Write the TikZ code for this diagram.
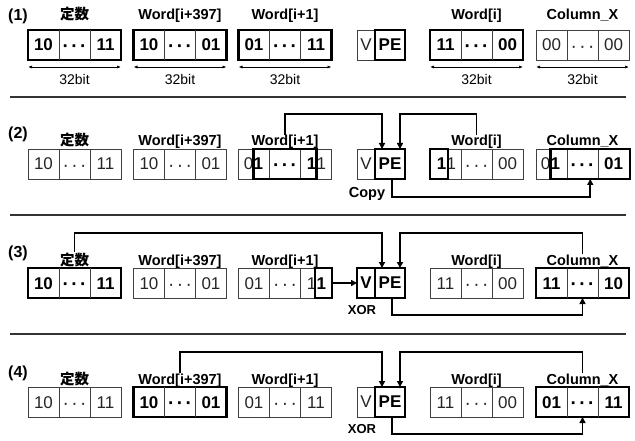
\documentclass[tikz,border=0pt]{standalone}
\usepackage{fontspec}
\setmainfont{Liberation Sans}
\newfontfamily\cjk{Noto Sans CJK JP}
\usetikzlibrary{arrows.meta}
\newcommand\dd{{\fontsize{19}{19}\selectfont·\kern2.4pt·\kern2.4pt·}}
\tikzset{
 thinbox/.style={draw=black!75, line width=0.9pt, minimum height=30pt, inner sep=0pt, outer sep=0pt},
 boldbox/.style={draw=black, line width=2.3pt, minimum height=30pt, inner sep=0pt, outer sep=0pt},
 divline/.style={draw=black!75, line width=0.9pt},
 thintxt/.style={inner sep=0pt, anchor=base, text=black!85, font=\fontsize{17}{17}\selectfont},
 boldtxt/.style={inner sep=0pt, anchor=base, text=black, font=\fontsize{17}{17}\selectfont\bfseries},
 thinfont/.style={font=\fontsize{17}{17}\selectfont, text=black!85},
 boldfont/.style={font=\fontsize{17}{17}\selectfont\bfseries, text=black},
 lbl/.style={inner sep=0pt, anchor=base, font=\fontsize{14.5}{15}\selectfont\bfseries},
 num/.style={inner sep=0pt, anchor=base, font=\fontsize{16}{16}\selectfont\bfseries},
 bits/.style={inner sep=0pt, anchor=base, font=\fontsize{14}{14}\selectfont},
 dimarrow/.style={line width=0.7pt, {Latex[length=4pt,width=3pt]}-{Latex[length=4pt,width=3pt]}},
 conn/.style={line width=1.8pt, -{Triangle[length=6pt,width=6pt]}},
 sepline/.style={line width=2pt, draw=black!80},
}
% box with three cells: name, cx, cy, kind
\newcommand\wbox[4]{%
 \node[#4box, minimum width=93pt] (#1) at (#2,#3) {};
 \draw[divline] (#2-15.5,#3-15) -- (#2-15.5,#3+15);
 \draw[divline] (#2+15.5,#3-15) -- (#2+15.5,#3+15);
}
% texts: name, cx, cy, kind, left, right
\newcommand\wtxt[6]{%
 \node[#4txt] (#1l) at (#2-31,#3+6) {#5};
 \node[#4txt] (#1m) at (#2,#3+7.5) {\dd};
 \node[#4txt] (#1r) at (#2+31,#3+6) {#6};
}
% V and PE: row, cy, kind of V
\newcommand\vpe[3]{%
 \node[#3box, #3font, minimum width=18pt] (v#1) at (366,#2) {V};
 \node[boldbox, boldfont, minimum width=30pt] (pe#1) at (390,#2) {PE};
}
% labels of one row: row, baseline y
\newcommand\labels[2]{%
 \node[lbl] (lk#1) at (74.5,#2) {\cjk\bfseries 定数};
 \node[lbl] (la#1) at (180,#2) {Word[i+397]};
 \node[lbl] (lb#1) at (285,#2) {Word[i+1]};
 \node[lbl] (lc#1) at (476.5,#2) {Word[i]};
 \node[lbl] (ld#1) at (582.5,#2) {Column\_X};
}
\begin{document}
\begin{tikzpicture}[x=1pt,y=-1pt]
\useasboundingbox (0,0) rectangle (635,441);

% ---------------- Row 1 ----------------
\node[num] (n1) at (18,21) {(1)};
\labels{1}{20}
\wbox{a1}{74.5}{45}{bold}  \wtxt{a1}{74.5}{45}{bold}{10}{11}
\wbox{b1}{180}{45}{bold}   \wtxt{b1}{180}{45}{bold}{10}{01}
\wbox{c1}{285}{45}{bold}   \wtxt{c1}{285}{45}{bold}{01}{11}
\vpe{1}{45}{thin}
\wbox{d1}{476.5}{45}{bold} \wtxt{d1}{476.5}{45}{bold}{11}{00}
\wbox{e1}{582.5}{45}{thin} \wtxt{e1}{582.5}{45}{thin}{00}{00}
\foreach \b/\x in {a1/74.5,b1/180,c1/285,d1/476.5,e1/582.5}{
 \draw[dimarrow] ([yshift=-7pt]\b.south west) -- ([yshift=-7pt]\b.south east);
 \node[bits] (bit\b) at (\x,85) {32bit};
}
\draw[sepline] (10,97) -- (626,97);

% ---------------- Row 2 ----------------
\node[num] (n2) at (18,139) {(2)};
\labels{2}{146}
\wbox{a2}{74.5}{164}{thin} \wtxt{a2}{74.5}{164}{thin}{10}{11}
\wbox{b2}{180}{164}{thin}  \wtxt{b2}{180}{164}{thin}{10}{01}
\wbox{c2}{285}{164}{thin}
\node[thintxt, anchor=base east] (c2l0) at (253.5,170) {0};
\node[boldtxt, anchor=base west] (c2l1) at (253.5,170) {1};
\node[boldtxt] (c2m) at (285,171.5) {\dd};
\node[boldtxt, anchor=base east] (c2r1) at (316.5,170) {1};
\node[thintxt, anchor=base west] (c2r0) at (316.5,170) {1};
\node[boldbox, minimum width=63pt] (c2s) at (285,164) {};
\vpe{2}{164}{thin}
\wbox{d2}{476.5}{164}{thin}
\node[boldtxt, anchor=base east] (d2l1) at (446.5,170) {1};
\node[thintxt, anchor=base west] (d2l0) at (446.5,170) {1};
\node[thintxt] (d2m) at (476.5,171.5) {\dd};
\node[thintxt] (d2r) at (507.5,170) {00};
\node[boldbox, minimum width=18pt] (d2s) at (439,164) {};
\wbox{e2}{582.5}{164}{thin}
\node[thintxt, anchor=base east] (e2l0) at (550.5,170) {0};
\node[boldtxt, anchor=base west] (e2l1) at (550.5,170) {1};
\node[boldtxt] (e2m) at (582.5,171.5) {\dd};
\node[boldtxt] (e2r) at (613.5,170) {01};
\node[boldbox, minimum width=79.5pt] (e2s) at (590.25,164) {};
\draw[conn] (lb2.north) |- ([xshift=7pt,yshift=35pt]pe2.north west) -- ([xshift=7pt]pe2.north west);
\draw[conn] (lc2.north) |- ([xshift=25pt,yshift=35pt]pe2.north west) -- ([xshift=25pt]pe2.north west);
\draw[conn] ([xshift=2pt]pe2.south) -- ++(0,18) -| (e2s.south);
\node[lbl] (copy) at (367,198) {Copy};
\draw[sepline] (10,215.5) -- (626,215.5);

% ---------------- Row 3 ----------------
\node[num] (n3) at (18,258) {(3)};
\labels{3}{265}
\wbox{a3}{74.5}{283}{bold} \wtxt{a3}{74.5}{283}{bold}{10}{11}
\wbox{b3}{180}{283}{thin}  \wtxt{b3}{180}{283}{thin}{10}{01}
\wbox{c3}{285}{283}{thin}
\node[thintxt] (c3l) at (254,289) {01};
\node[thintxt] (c3m) at (285,290.5) {\dd};
\node[thintxt, anchor=base east] (c3r0) at (316.5,289) {1};
\node[boldtxt, anchor=base west] (c3r1) at (316.5,289) {1};
\node[boldbox, minimum width=16.5pt] (c3s) at (323.5,283) {};
\vpe{3}{283}{bold}
\wbox{d3}{476.5}{283}{thin} \wtxt{d3}{476.5}{283}{thin}{11}{00}
\wbox{e3}{582.5}{283}{bold} \wtxt{e3}{582.5}{283}{bold}{11}{10}
\draw[conn] (c3s.east) -- (v3.west);
\draw[conn] (lk3.north) |- ([xshift=7pt,yshift=35pt]pe3.north west) -- ([xshift=7pt]pe3.north west);
\draw[conn] (ld3.north) |- ([xshift=25pt,yshift=35pt]pe3.north west) -- ([xshift=25pt]pe3.north west);
\draw[conn] ([xshift=2pt]pe3.south) -- ++(0,17) -| (e3.south);
\node[lbl, font=\fontsize{13}{13}\selectfont\bfseries] (xor3) at (362,314) {XOR};
\draw[sepline] (10,334) -- (626,334);

% ---------------- Row 4 ----------------
\node[num] (n4) at (18,377) {(4)};
\labels{4}{384}
\wbox{a4}{74.5}{402}{thin} \wtxt{a4}{74.5}{402}{thin}{10}{11}
\wbox{b4}{180}{402}{bold}  \wtxt{b4}{180}{402}{bold}{10}{01}
\wbox{c4}{285}{402}{thin}  \wtxt{c4}{285}{402}{thin}{01}{11}
\vpe{4}{402}{thin}
\wbox{d4}{476.5}{402}{thin} \wtxt{d4}{476.5}{402}{thin}{11}{00}
\wbox{e4}{582.5}{402}{bold} \wtxt{e4}{582.5}{402}{bold}{01}{11}
\draw[conn] (la4.north) |- ([xshift=7pt,yshift=35pt]pe4.north west) -- ([xshift=7pt]pe4.north west);
\draw[conn] (ld4.north) |- ([xshift=25pt,yshift=35pt]pe4.north west) -- ([xshift=25pt]pe4.north west);
\draw[conn] ([xshift=2pt]pe4.south) -- ++(0,17) -| (e4.south);
\node[lbl, font=\fontsize{13}{13}\selectfont\bfseries] (xor4) at (362,433) {XOR};
\end{tikzpicture}
\end{document}
